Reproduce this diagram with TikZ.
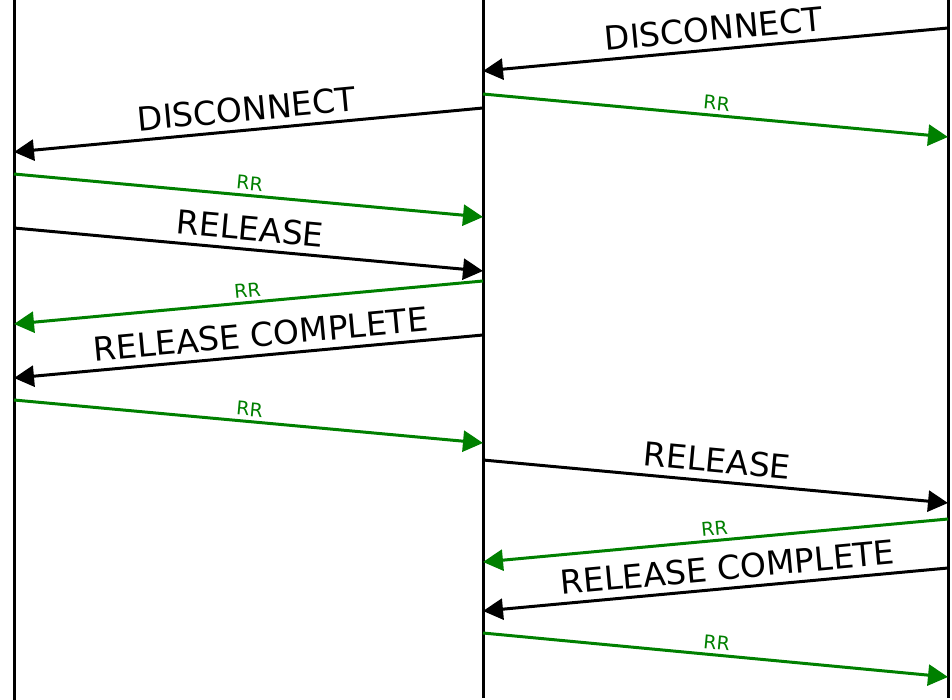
\documentclass[tikz,border=0pt]{standalone}
\usepackage{fontspec}
\setmainfont{DejaVu Sans}
\usepackage{tikz}
\usetikzlibrary{arrows.meta}
\definecolor{rrgreen}{RGB}{0,128,0}
\tikzset{
  msg/.style={line width=3pt, -{Triangle[length=20pt,width=21pt]}},
  rr/.style={msg, rrgreen},
  biglabel/.style={sloped, above=7pt, inner sep=0pt, font=\fontsize{33}{33}\selectfont},
  rrlabel/.style={sloped, above=4pt, inner sep=0pt, text=rrgreen, font=\fontsize{19}{19}\selectfont},
  lifeline/.style={line width=3pt}
}

\begin{document}
\begin{tikzpicture}[x=1pt, y=-1pt]
      \useasboundingbox[fill=white] (0,0) rectangle (952,700);

      % lifelines
      \coordinate (Atop) at (14,0);   \coordinate (Abot) at (14,700);
      \coordinate (Btop) at (483,0);  \coordinate (Bbot) at (483,698);
      \coordinate (Ctop) at (948,0);  \coordinate (Cbot) at (948,698);
      \draw[lifeline] (Atop) -- (Abot);
      \draw[lifeline] (Btop) -- (Bbot);
      \draw[lifeline] (Ctop) -- (Cbot);

      % message end points
      \coordinate (m1s) at (948,28);   \coordinate (m1e) at (483,71);
      \coordinate (m2s) at (483,94);   \coordinate (m2e) at (948,137);
      \coordinate (m3s) at (483,108);  \coordinate (m3e) at (14,152);
      \coordinate (m4s) at (14,174);   \coordinate (m4e) at (483,217);
      \coordinate (m5s) at (14,228);   \coordinate (m5e) at (483,271);
      \coordinate (m6s) at (483,281);  \coordinate (m6e) at (14,324);
      \coordinate (m7s) at (483,335);  \coordinate (m7e) at (14,378);
      \coordinate (m8s) at (14,400);   \coordinate (m8e) at (483,443);
      \coordinate (m9s) at (483,460);  \coordinate (m9e) at (948,503);
      \coordinate (m10s) at (948,519); \coordinate (m10e) at (483,562);
      \coordinate (m11s) at (948,568); \coordinate (m11e) at (483,611);
      \coordinate (m12s) at (483,633); \coordinate (m12e) at (948,677);

      \draw[msg] (m1s) -- (m1e)
        node[biglabel, pos=0.5] {DISCONNECT};
      \draw[rr] (m2s) -- (m2e)
        node[rrlabel, pos=0.5] {RR};
      \draw[msg] (m3s) -- (m3e)
        node[biglabel, pos=0.5] {DISCONNECT};
      \draw[rr] (m4s) -- (m4e)
        node[rrlabel, pos=0.5] {RR};
      \draw[msg] (m5s) -- (m5e)
        node[biglabel, pos=0.5] {RELEASE};
      \draw[rr] (m6s) -- (m6e)
        node[rrlabel, pos=0.5] {RR};
      \draw[msg] (m7s) -- (m7e)
        node[biglabel, pos=0.47] {RELEASE COMPLETE};
      \draw[rr] (m8s) -- (m8e)
        node[rrlabel, pos=0.5] {RR};

      \draw[msg] (m9s) -- (m9e)
        node[biglabel, pos=0.5] {RELEASE};
      \draw[rr] (m10s) -- (m10e)
        node[rrlabel, pos=0.5] {RR};
      \draw[msg] (m11s) -- (m11e)
        node[biglabel, pos=0.47] {RELEASE COMPLETE};
      \draw[rr] (m12s) -- (m12e)
        node[rrlabel, pos=0.5] {RR};
\end{tikzpicture}
\end{document}
